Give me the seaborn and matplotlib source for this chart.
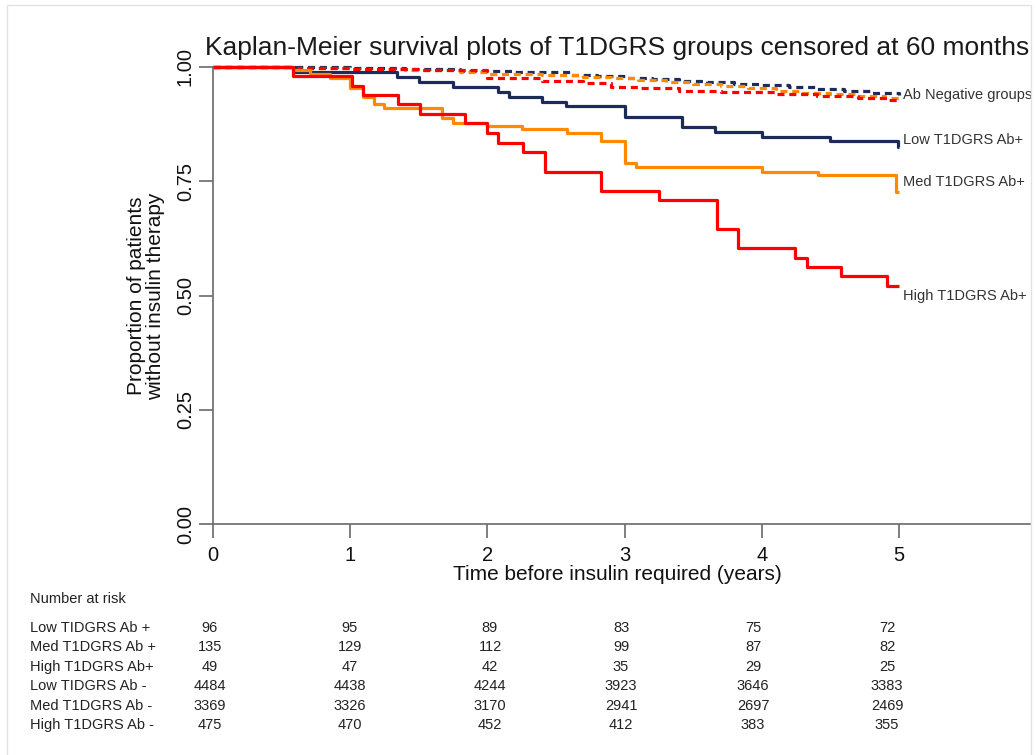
import numpy as np
import pandas as pd
import matplotlib
matplotlib.use("Agg")
import matplotlib.pyplot as plt
import seaborn as sns
from matplotlib.patches import Rectangle

sns.set_theme(style="white")
plt.rcParams["font.family"] = ["Liberation Sans", "DejaVu Sans"]

# Kaplan-Meier step estimates: event times (years) and survival after each step
low_pos_t = [0, 0.60, 1.34, 1.50, 1.75, 2.08, 2.16, 2.40, 2.57, 3.00, 3.42, 3.66, 4.00, 4.50, 4.99, 5.00]
low_pos_s = [1.0, 0.990, 0.979, 0.968, 0.957, 0.946, 0.935, 0.924, 0.915, 0.891, 0.869, 0.858, 0.846, 0.837, 0.826, 0.826]

med_pos_t = [0, 0.58, 0.71, 0.85, 1.00, 1.09, 1.17, 1.25, 1.67, 1.75, 2.00, 2.25, 2.58, 2.83, 3.00, 3.08, 4.00, 4.41, 4.98, 5.00]
med_pos_s = [1.0, 0.993, 0.985, 0.975, 0.955, 0.935, 0.918, 0.910, 0.888, 0.878, 0.871, 0.864, 0.855, 0.839, 0.789, 0.781, 0.771, 0.764, 0.727, 0.727]

high_pos_t = [0, 0.58, 1.01, 1.09, 1.35, 1.51, 1.84, 2.00, 2.08, 2.26, 2.42, 2.83, 3.25, 3.67, 3.83, 4.24, 4.33, 4.58, 4.91, 5.00]
high_pos_s = [1.0, 0.980, 0.959, 0.939, 0.918, 0.898, 0.877, 0.856, 0.834, 0.813, 0.771, 0.729, 0.708, 0.646, 0.604, 0.583, 0.562, 0.542, 0.521, 0.521]

low_neg_t = [0, 0.60, 1.00, 1.40, 1.80, 2.20, 2.60, 2.80, 3.00, 3.20, 3.40, 3.60, 3.80, 4.00, 4.20, 4.40, 4.60, 4.80, 5.00]
low_neg_s = [1.0, 0.999, 0.997, 0.995, 0.992, 0.988, 0.983, 0.980, 0.976, 0.973, 0.970, 0.967, 0.963, 0.960, 0.956, 0.952, 0.948, 0.944, 0.939]

med_neg_t = [0, 0.60, 1.00, 1.40, 1.80, 2.00, 2.40, 2.70, 2.90, 3.10, 3.30, 3.50, 3.70, 3.90, 4.10, 4.30, 4.50, 4.70, 4.90, 5.00]
med_neg_s = [1.0, 0.998, 0.996, 0.993, 0.989, 0.985, 0.982, 0.979, 0.976, 0.971, 0.967, 0.963, 0.958, 0.953, 0.948, 0.944, 0.940, 0.936, 0.932, 0.932]

high_neg_t = [0, 0.60, 1.00, 1.50, 2.00, 2.40, 2.70, 2.90, 3.10, 3.40, 3.70, 4.10, 4.40, 4.70, 4.90, 5.00]
high_neg_s = [1.0, 0.998, 0.996, 0.993, 0.975, 0.970, 0.964, 0.957, 0.953, 0.948, 0.945, 0.941, 0.937, 0.933, 0.928, 0.928]

# Number-at-risk table
risk_times = [0, 1, 2, 3, 4, 5]
risk_rows = ["Low TIDGRS Ab +", "Med T1DGRS Ab +", "High T1DGRS Ab+",
             "Low TIDGRS Ab -", "Med T1DGRS Ab -", "High T1DGRS Ab -"]
risk_low_pos = [96, 95, 89, 83, 75, 72]
risk_med_pos = [135, 129, 112, 99, 87, 82]
risk_high_pos = [49, 47, 42, 35, 29, 25]
risk_low_neg = [4484, 4438, 4244, 3923, 3646, 3383]
risk_med_neg = [3369, 3326, 3170, 2941, 2697, 2469]
risk_high_neg = [475, 470, 452, 412, 383, 355]

curve_labels = ["Ab Negative groups", "Low T1DGRS Ab+", "Med T1DGRS Ab+", "High T1DGRS Ab+"]
curve_label_y = [0.939, 0.840, 0.748, 0.499]

NAVY = "#1c2b5a"
ORANGE = "#ff8a00"
RED = "#ff0000"

W, H = 1036, 755
fig = plt.figure(figsize=(W / 100, H / 100), dpi=100)
fig.patch.set_facecolor("white")

# light frame around the graph region
fig.add_artist(Rectangle((7 / W, -0.01), (1031 - 7) / W, 1.01 - 5 / H,
                         transform=fig.transFigure, fill=False,
                         edgecolor="#e2e2e2", linewidth=1.0))

ax = fig.add_axes([213 / W, 1 - 524 / H, 817 / W, 457 / H])
ax.set_facecolor("white")

curves = [
    (low_neg_t, low_neg_s, NAVY, True),
    (med_neg_t, med_neg_s, ORANGE, True),
    (high_neg_t, high_neg_s, RED, True),
    (low_pos_t, low_pos_s, NAVY, False),
    (med_pos_t, med_pos_s, ORANGE, False),
    (high_pos_t, high_pos_s, RED, False),
]
for t, s, col, dashed in curves:
    df = pd.DataFrame({"t": t, "s": s})
    kw = dict(linestyle=(0, (2.2, 1.5))) if dashed else dict(linestyle="-")
    sns.lineplot(data=df, x="t", y="s", ax=ax, color=col, linewidth=2.3,
                 drawstyle="steps-post", estimator=None, sort=False,
                 clip_on=False, solid_capstyle="butt", **kw)

ax.set_xlim(0, 5.955)
ax.set_ylim(0, 1)
ax.set_xticks(risk_times)
ax.set_xticklabels([str(v) for v in risk_times])
yt = [0, 0.25, 0.5, 0.75, 1.0]
ax.set_yticks(yt)
ax.set_yticklabels([f"{v:.2f}" for v in yt], rotation=90, va="center")
ax.tick_params(axis="both", direction="out", length=10, width=1.2,
               color="#6a6a6a", labelsize=14.5, labelcolor="#111111",
               left=True, bottom=True)
ax.tick_params(axis="x", pad=6)
ax.tick_params(axis="y", pad=3)
sns.despine(ax=ax)
for sp in ("left", "bottom"):
    ax.spines[sp].set_color("#6a6a6a")
    ax.spines[sp].set_linewidth(1.2)
ax.set_xlabel("")
ax.set_ylabel("")

for lab, yv in zip(curve_labels, curve_label_y):
    ax.text(5.03, yv, lab, fontsize=10.5, color="#333333",
            ha="left", va="center", clip_on=False)

fig.text(617 / W, 1 - 48 / H,
         "Kaplan-Meier survival plots of T1DGRS groups censored at 60 months",
         ha="center", va="center", fontsize=19, color="#1a1a1a")
fig.text(617 / W, 1 - 575 / H, "Time before insulin required (years)",
         ha="center", va="center", fontsize=15, color="#111111")
fig.text(146 / W, 1 - 296 / H, "Proportion of patients\nwithout insulin therapy",
         ha="center", va="center", rotation=90, fontsize=15, color="#111111",
         multialignment="center", linespacing=0.95)

# Number at risk table
fig.text(30 / W, 1 - 599 / H, "Number at risk", fontsize=10.5,
         color="#222222", ha="left", va="center")
col_px = [210, 350, 490, 621, 753, 887]
rows = [risk_low_pos, risk_med_pos, risk_high_pos,
        risk_low_neg, risk_med_neg, risk_high_neg]
for i, (name, vals) in enumerate(zip(risk_rows, rows)):
    ypx = 628 + 19.4 * i
    fig.text(30 / W, 1 - ypx / H, name, fontsize=10.5, color="#222222",
             ha="left", va="center")
    for cx, v in zip(col_px, vals):
        fig.text(cx / W, 1 - ypx / H, str(v), fontsize=10.5, color="#222222",
                 ha="center", va="center")

fig.savefig("out.png", dpi=100, facecolor="white")
